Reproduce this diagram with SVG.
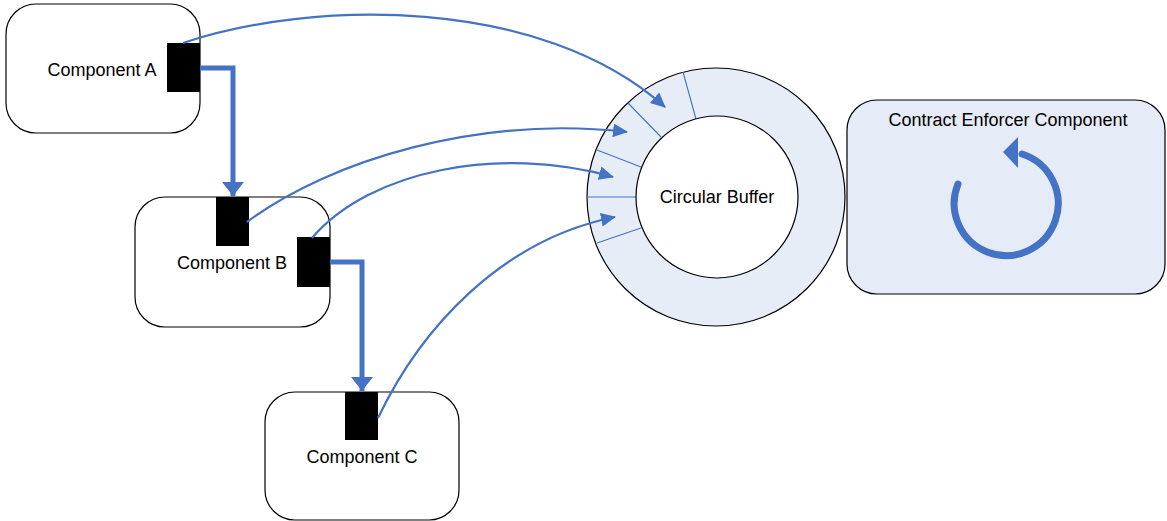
<svg xmlns="http://www.w3.org/2000/svg" width="1167" height="521" viewBox="0 0 1167 521">
  <style>
    .box { fill: #ffffff; stroke: #000000; stroke-width: 1.2; }
    .port { fill: #000000; }
    .label { font-family: "Liberation Sans", Arial, sans-serif; font-size: 18px; fill: #000000; text-anchor: middle; dominant-baseline: central; }
    .flow { fill: none; stroke: #4472C4; stroke-width: 2.2; }
    .thick { fill: none; stroke: #4472C4; stroke-width: 5; stroke-linejoin: miter; }
    .seg { stroke: #4472C4; stroke-width: 1.1; }
  </style>
  <defs>
    <marker id="head" markerUnits="userSpaceOnUse" markerWidth="16" markerHeight="14" refX="14" refY="7" orient="auto">
      <path d="M0,0 L15,7 L0,14 Z" fill="#4472C4"/>
    </marker>
    <marker id="headBig" markerUnits="userSpaceOnUse" markerWidth="24" markerHeight="24" refX="14" refY="12" orient="auto">
      <path d="M0,1 L14,12 L0,23 Z" fill="#4472C4"/>
    </marker>
  </defs>

  <!-- Circular buffer ring -->
  <g id="circular-buffer">
    <circle cx="716" cy="197" r="129" fill="#E7EDF7" stroke="#000" stroke-width="1.2"/>
    <line class="seg" x1="683" y1="72" x2="696" y2="119"/>
    <line class="seg" x1="628" y1="103" x2="661" y2="137"/>
    <line class="seg" x1="597" y1="150" x2="641" y2="167"/>
    <line class="seg" x1="587" y1="197" x2="636" y2="197"/>
    <line class="seg" x1="597" y1="243" x2="641" y2="228"/>
    <circle cx="717" cy="197" r="81" fill="#ffffff" stroke="#000" stroke-width="1.2"/>
    <text class="label" x="717" y="197">Circular Buffer</text>
  </g>

  <!-- Contract enforcer -->
  <g id="contract-enforcer">
    <rect x="847" y="100" width="318" height="194" rx="30" ry="30" fill="#E6ECF7" stroke="#000" stroke-width="1.2"/>
    <text class="label" x="1008" y="120">Contract Enforcer Component</text>
    <path d="M958,184 A52,52 0 1 0 1022,154" fill="none" stroke="#4472C4" stroke-width="7" stroke-linecap="round"/>
    <path d="M1003,152 L1018,137 L1018,168 Z" fill="#4472C4"/>
  </g>

  <!-- Component A -->
  <g id="component-a">
    <rect class="box" x="6" y="4" width="194" height="129" rx="30" ry="30"/>
    <text class="label" x="102" y="70">Component A</text>
    <rect class="port" x="167" y="43" width="33" height="49"/>
  </g>

  <!-- Component B -->
  <g id="component-b">
    <rect class="box" x="135" y="197" width="195" height="130" rx="30" ry="30"/>
    <text class="label" x="232" y="263">Component B</text>
    <rect class="port" x="216" y="197" width="33" height="49"/>
    <rect class="port" x="297" y="237" width="33" height="50"/>
  </g>

  <!-- Component C -->
  <g id="component-c">
    <rect class="box" x="265" y="392" width="194" height="128" rx="30" ry="30"/>
    <text class="label" x="362" y="457">Component C</text>
    <rect class="port" x="345" y="392" width="33" height="48"/>
  </g>

  <!-- Connectors -->
  <g id="connectors">
    <path class="thick" d="M200,68 H233 V196" marker-end="url(#headBig)"/>
    <path class="thick" d="M330,262 H362 V391" marker-end="url(#headBig)"/>
    <path class="flow" d="M183,43 C310,0 540,-5 665,107" marker-end="url(#head)"/>
    <path class="flow" d="M247,222 C330,160 480,115 627,132" marker-end="url(#head)"/>
    <path class="flow" d="M312,238 C370,170 500,145 613,177" marker-end="url(#head)"/>
    <path class="flow" d="M378,418 C420,330 500,240 615,217" marker-end="url(#head)"/>
  </g>
</svg>
